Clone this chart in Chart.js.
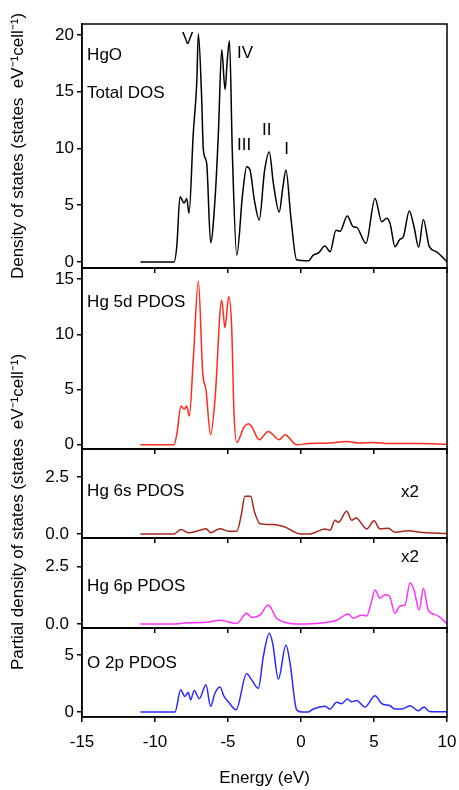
<!DOCTYPE html>
<html>
<head>
<meta charset="utf-8">
<script src="https://cdn.jsdelivr.net/npm/chart.js@4.4.0/dist/chart.umd.min.js"></script>
<style>
body{margin:0;background:#fff;width:459px;height:790px;overflow:hidden;position:relative;font-family:'Liberation Sans',Arial,sans-serif}
canvas{position:absolute;left:0}
#ptitle{position:absolute;left:-182px;top:502px;width:400px;height:20px;line-height:20px;text-align:center;font-size:17px;color:#000;transform:rotate(-90deg);white-space:pre}
</style>
</head>
<body>
<canvas id="c1" width="459" height="278" style="top:0px"></canvas>
<canvas id="c2" width="459" height="201" style="top:258px"></canvas>
<canvas id="c3" width="459" height="109" style="top:439px"></canvas>
<canvas id="c4" width="459" height="110" style="top:528px"></canvas>
<canvas id="c5" width="459" height="172" style="top:618px"></canvas>
<div id="ptitle">Partial density of states (states  eV⁻¹cell⁻¹)</div>
<script>
'use strict'
// energy axis (eV)
const energyTicks = [-15, -10, -5, 0, 5, 10];

// total DOS
const totalE   = [-11, -8.7, -8.5, -8.29, -8.0, -7.83, -7.67, -7.38, -7.14, -7.03, -6.8, -6.69, -6.46, -6.19, -5.89, -5.66, -5.43, -5.2, -5.05, -4.9, -4.7, -4.4, -4.0, -3.72, -3.49, -3.2, -2.86, -2.5, -2.17, -1.9, -1.49, -1.25, -1.03, -0.7, -0.3, 0.5, 0.84, 1.2, 1.64, 1.99, 2.4, 2.67, 3.17, 3.58, 3.81, 4.45, 5.07, 5.53, 5.87, 6.1, 6.44, 6.78, 7.0, 7.42, 7.74, 8.06, 8.38, 8.79, 9.29, 10];
const totalDos = [0, 0, 1.5, 5.75, 5.2, 5.6, 4.3, 11.3, 15.8, 20.1, 14.3, 9.9, 8.7, 1.7, 5.5, 11.3, 18.7, 15.2, 17.8, 19.5, 9.5, 0.6, 6.0, 8.4, 8.1, 5.5, 3.7, 8.0, 9.7, 7.0, 4.4, 6.5, 8.1, 4.0, 0.2, 0.1, 0.6, 0.8, 1.4, 0.9, 2.8, 2.7, 4.05, 3.1, 3.05, 1.65, 5.6, 3.55, 3.85, 3.4, 1.35, 2.0, 2.2, 4.5, 3.1, 1.3, 3.75, 1.35, 0.9, 0];
const totalTicks = [0, 5, 10, 15, 20];

// Hg 5d
const hg5dE   = [-11, -8.7, -8.5, -8.22, -8.0, -7.83, -7.65, -7.38, -7.03, -6.73, -6.51, -6.19, -5.89, -5.43, -5.21, -4.95, -4.75, -4.59, -4.4, -3.9, -3.61, -3.38, -2.86, -2.24, -1.49, -1.1, -0.3, 0.5, 2.0, 3.13, 4.0, 4.96, 6, 8, 10];
const hg5dDos = [0, 0, 1.0, 3.5, 3.2, 3.5, 2.6, 7.7, 14.8, 6.5, 5.0, 0.9, 4.1, 13.1, 10.6, 13.4, 10.7, 2.9, 0.2, 1.6, 1.9, 1.65, 0.45, 1.2, 0.45, 0.9, 0.0, 0.1, 0.15, 0.3, 0.15, 0.2, 0.1, 0.1, 0.05];
const hg5dTicks = [0, 5, 10, 15];

// Hg 6s (x2)
const hg6sE   = [-11, -8.7, -8.22, -7.72, -6.92, -6.5, -6.19, -5.55, -4.98, -4.4, -4.1, -3.84, -3.45, -3.2, -2.81, -1.9, -1.1, -0.07, 0.62, 1.64, 1.99, 2.33, 2.56, 3.13, 3.47, 3.77, 4.5, 5.0, 5.41, 5.98, 6.44, 7.35, 8.15, 10];
const hg6sDos = [0, 0, 0.19, 0.05, 0.16, 0.23, 0.05, 0.23, 0.12, 0.12, 0.8, 1.65, 1.65, 1.0, 0.45, 0.41, 0.3, 0.0, 0.0, 0.22, 0.16, 0.6, 0.51, 0.99, 0.6, 0.7, 0.22, 0.58, 0.22, 0.25, 0.07, 0.14, 0.07, 0.02];
const hg6sTicks = [0, 2.5];

// Hg 6p (x2)
const hg6pE   = [-11, -8.7, -8, -6.5, -5.55, -4.98, -4.4, -3.72, -3.38, -2.81, -2.24, -1.67, -0.98, -0.3, 0.8, 1.53, 2.44, 3.24, 3.58, 4.16, 4.5, 4.8, 5.07, 5.41, 5.75, 6.05, 6.44, 6.78, 7.12, 7.47, 7.74, 8.1, 8.38, 8.72, 9.29, 9.75, 10];
const hg6pDos = [0, 0, 0.05, 0.08, 0.17, 0.1, 0.03, 0.47, 0.29, 0.39, 0.83, 0.25, 0.06, 0, 0.02, 0.06, 0.17, 0.44, 0.25, 0.39, 0.35, 0.9, 1.48, 1.12, 1.27, 1.22, 0.47, 0.79, 0.83, 1.8, 1.48, 0.61, 1.56, 0.61, 0.39, 0.17, 0];
const hg6pTicks = [0, 2.5];

// O 2p
const o2pE   = [-11, -8.63, -8.24, -7.95, -7.72, -7.56, -7.31, -6.97, -6.51, -6.19, -5.89, -5.55, -5.27, -4.91, -4.45, -3.72, -3.38, -2.92, -2.58, -2.17, -1.94, -1.55, -1.03, -0.75, -0.3, 0.05, 0.5, 0.84, 1.64, 1.99, 2.44, 2.78, 3.17, 3.47, 3.81, 4.38, 5.07, 5.53, 6.1, 6.44, 6.9, 7.47, 8.04, 8.42, 8.79, 10];
const o2pDos = [0, 0, 1.96, 1.37, 1.72, 1.08, 1.9, 1.17, 2.4, 0.5, 1.67, 2.2, 1.37, 0.79, 0.2, 3.36, 2.83, 2.1, 4.88, 6.93, 6.05, 2.9, 5.9, 4.3, 0.2, 0, 0, 0.26, 0.5, 0.26, 0.85, 0.73, 1.14, 0.9, 1.02, 0.44, 1.43, 0.73, 0.55, 0.26, 0.26, 0.55, 0.11, 0.44, 0.05, 0.02];
const o2pTicks = [0, 5];

const FONT = "'Liberation Sans', Arial, sans-serif";
const FSIZE = 17;

// draws the full frame around each panel
const boxPlugin = {
    id: 'box',
    afterDraw(chart){
        const a = chart.chartArea, c = chart.ctx;
        c.save();
        c.strokeStyle = '#000';
        c.lineWidth = 1.5;
        c.strokeRect(a.left, a.top, a.right - a.left, a.bottom - a.top);
        c.restore();
    }
};

// panel captions, placed in data units
const textPlugin = {
    id: 'panelText',
    afterDraw(chart, args, opts){
        const c = chart.ctx, xs = chart.scales.x, ys = chart.scales.y;
        c.save();
        c.fillStyle = '#000';
        c.font = FSIZE + 'px ' + FONT;
        c.textBaseline = 'middle';
        (opts.items || []).forEach(it => {
            c.textAlign = it.align || 'center';
            c.fillText(it.text, xs.getPixelForValue(it.e), ys.getPixelForValue(it.v));
        });
        c.restore();
    }
};

function makePanel(id, cfg){
    const axisFont = {family: FONT, size: FSIZE};
    return new Chart(document.getElementById(id), {
        type: 'line',
        data: {
            datasets: [{
                data: cfg.e.map((e, i) => ({x: e, y: cfg.v[i]})),
                borderColor: cfg.color,
                borderWidth: 1.5,
                pointRadius: 0,
                cubicInterpolationMode: 'monotone',
                fill: false
            }]
        },
        options: {
            responsive: false,
            animation: false,
            layout: {padding: {top: cfg.padTop, right: 12, left: 0, bottom: 0}},
            plugins: {
                legend: {display: false},
                tooltip: {enabled: false},
                panelText: {items: cfg.labels}
            },
            scales: {
                x: {
                    type: 'linear', min: -15, max: 10,
                    afterBuildTicks: s => { s.ticks = energyTicks.map(v => ({value: v})); },
                    afterFit: s => { s.height = cfg.xHeight; s.paddingLeft = 0; s.paddingRight = 0; },
                    grid: {drawOnChartArea: false, tickLength: 5, color: '#000', lineWidth: 1.5},
                    border: {color: '#000', width: 1.5},
                    ticks: {display: cfg.showX, autoSkip: false, maxRotation: 0, color: '#000', font: axisFont, padding: 10},
                    title: {display: cfg.showX, text: 'Energy (eV)', color: '#000', font: axisFont, padding: {top: 0, bottom: 1}}
                },
                y: {
                    min: cfg.min, max: cfg.max,
                    afterBuildTicks: s => { s.ticks = cfg.ticks.map(v => ({value: v})); },
                    afterFit: s => { s.width = 82; s.paddingTop = 0; s.paddingBottom = 0; },
                    grid: {drawOnChartArea: false, tickLength: 5, color: '#000', lineWidth: 1.5},
                    border: {color: '#000', width: 1.5},
                    ticks: {color: '#000', font: axisFont, padding: cfg.tickPad, callback: v => v.toFixed(cfg.decimals)},
                    title: {display: !!cfg.title, text: cfg.title || '', color: '#000', font: axisFont, padding: {top: 8, bottom: 0}}
                }
            }
        },
        plugins: [boxPlugin, textPlugin]
    });
}

makePanel('c1', {
    e: totalE, v: totalDos, color: '#000000', min: -0.53, max: 20.97, ticks: totalTicks, decimals: 0, tickPad: 3,
    padTop: 24, xHeight: 10, showX: false,
    title: 'Density of states (states  eV⁻¹cell⁻¹)',
    labels: [
        {text: 'HgO', e: -14.65, v: 18.2, align: 'left'},
        {text: 'Total DOS', e: -14.65, v: 14.9, align: 'left'},
        {text: 'V', e: -7.76, v: 19.6},
        {text: 'IV', e: -3.84, v: 18.4},
        {text: 'III', e: -3.9, v: 10.25},
        {text: 'II', e: -2.35, v: 11.6},
        {text: 'I', e: -0.98, v: 9.9}
    ]
});

makePanel('c2', {
    e: hg5dE, v: hg5dDos, color: '#ff2a1a', min: -0.39, max: 16.0, ticks: hg5dTicks, decimals: 0, tickPad: 3,
    padTop: 10, xHeight: 10, showX: false,
    labels: [{text: 'Hg 5d PDOS', e: -14.65, v: 12.9, align: 'left'}]
});

makePanel('c3', {
    e: hg6sE, v: hg6sDos, color: '#a8281e', min: -0.18, max: 3.73, ticks: hg6sTicks, decimals: 1, tickPad: 8,
    padTop: 10, xHeight: 10, showX: false,
    labels: [
        {text: 'Hg 6s PDOS', e: -14.65, v: 1.87, align: 'left'},
        {text: 'x2', e: 7.47, v: 1.81}
    ]
});

makePanel('c4', {
    e: hg6pE, v: hg6pDos, color: '#ff30ff', min: -0.17, max: 3.74, ticks: hg6pTicks, decimals: 1, tickPad: 8,
    padTop: 10, xHeight: 10, showX: false,
    labels: [
        {text: 'Hg 6p PDOS', e: -14.65, v: 1.63, align: 'left'},
        {text: 'x2', e: 7.47, v: 2.91}
    ]
});

makePanel('c5', {
    e: o2pE, v: o2pDos, color: '#2a2aff', min: -0.44, max: 7.4, ticks: o2pTicks, decimals: 0, tickPad: 3,
    padTop: 10, xHeight: 73, showX: true,
    labels: [{text: 'O 2p PDOS', e: -14.65, v: 4.3, align: 'left'}]
});
</script>
</body>
</html>
